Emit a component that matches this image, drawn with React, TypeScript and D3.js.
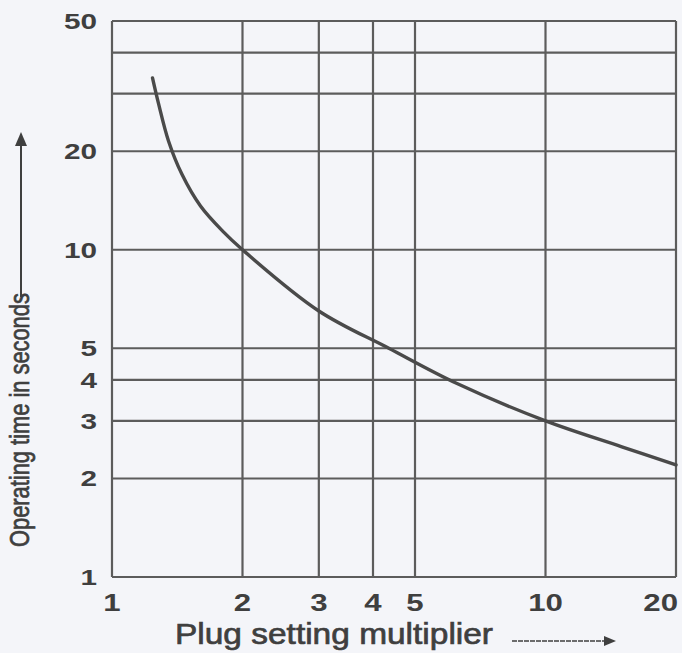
import { scaleLog, line, curveCatmullRom } from 'd3'

// curve (plug setting multiplier vs operating time, s)
const psm = [1.24, 1.28, 1.35, 1.45, 1.6, 1.8, 2, 3, 4.35, 6.25, 10, 15, 20]
const opTime = [33.5, 28, 21.5, 17, 13.6, 11.4, 10, 6.5, 5, 3.9, 3, 2.5, 2.2]

const xGrid = [1, 2, 3, 4, 5, 10, 20]
const yGrid = [1, 2, 3, 4, 5, 10, 20, 30, 40, 50]
const xTickLabels = ['1', '2', '3', '4', '5', '10', '20']
const yTickLabels = ['1', '2', '3', '4', '5', '10', '20', '50']

const xTitle = 'Plug setting multiplier'
const yTitle = 'Operating time in seconds'

const App = () => {
    const width = 682
    const height = 653
    const left = 112
    const right = 676
    const top = 21
    const bottom = 577

    const ink = '#3f3f3f'
    const gridColor = '#5c5c5c'
    const font = '"Liberation Sans", Arial, sans-serif'

    const xScale = scaleLog().domain([1, 20]).range([left, right])
    const yScale = scaleLog().domain([1, 50]).range([bottom, top])

    const pts: [number, number][] = psm.map((p, i) => [p, opTime[i]])
    const path = line<[number, number]>()
        .x(d => xScale(d[0]))
        .y(d => yScale(d[1]))
        .curve(curveCatmullRom.alpha(0.5))(pts)

    return (
        <div style={{ position: 'fixed', left: 0, top: 0 }}>
            <svg width={width} height={height} style={{ display: 'block', background: '#f4f5f9' }}>
                {/* grid */}
                {yGrid.map(v => (
                    <line key={'h' + v} x1={left} x2={right} y1={yScale(v)} y2={yScale(v)}
                        stroke={gridColor} strokeWidth={2.2} />
                ))}
                {xGrid.map(v => (
                    <line key={'v' + v} x1={xScale(v)} x2={xScale(v)} y1={top} y2={bottom}
                        stroke={gridColor} strokeWidth={2.2} />
                ))}

                {/* the curve */}
                <path d={path || ''} fill='none' stroke='#4a4a4a' strokeWidth={3.4} strokeLinecap='round' />

                {/* y tick labels, wide digits like the scan */}
                {yTickLabels.map(t => (
                    <text key={'yl' + t} transform={`translate(97,${yScale(+t)}) scale(1.35,1)`}
                        textAnchor='end' dy='0.36em' fontFamily={font} fontSize={22} fontWeight='bold'
                        fill={ink}>
                        {t}
                    </text>
                ))}

                {/* x tick labels */}
                {xTickLabels.map((t, i) => {
                    let last = i === xTickLabels.length - 1
                    return (
                        <text key={'xl' + t}
                            transform={`translate(${last ? width - 4 : xScale(+t)},611) scale(1.3,1)`}
                            textAnchor={last ? 'end' : 'middle'} fontFamily={font} fontSize={24}
                            fontWeight='bold' fill={ink}>
                            {t}
                        </text>
                    )
                })}

                {/* x title + arrow */}
                <text x={175} y={644} textLength={318} lengthAdjust='spacingAndGlyphs'
                    fontFamily={font} fontSize={30} fill={ink} stroke={ink} strokeWidth={0.7}>
                    {xTitle}
                </text>
                <line x1={512} x2={606} y1={641} y2={641} stroke={ink} strokeWidth={1.5} strokeDasharray='5 1' />
                <path d='M604,636 L616,641 L604,646 Z' fill={ink} />

                {/* y title + arrow */}
                <text transform='translate(29,547) rotate(-90) scale(0.81,1)'
                    fontFamily={font} fontSize={27} fill={ink} stroke={ink} strokeWidth={0.7}>
                    {yTitle}
                </text>
                <line x1={21} x2={21} y1={297} y2={142} stroke={ink} strokeWidth={2} />
                <path d='M15,146 L21,132 L27,146 Z' fill={ink} />
            </svg>
        </div>
    )
}

export default App
